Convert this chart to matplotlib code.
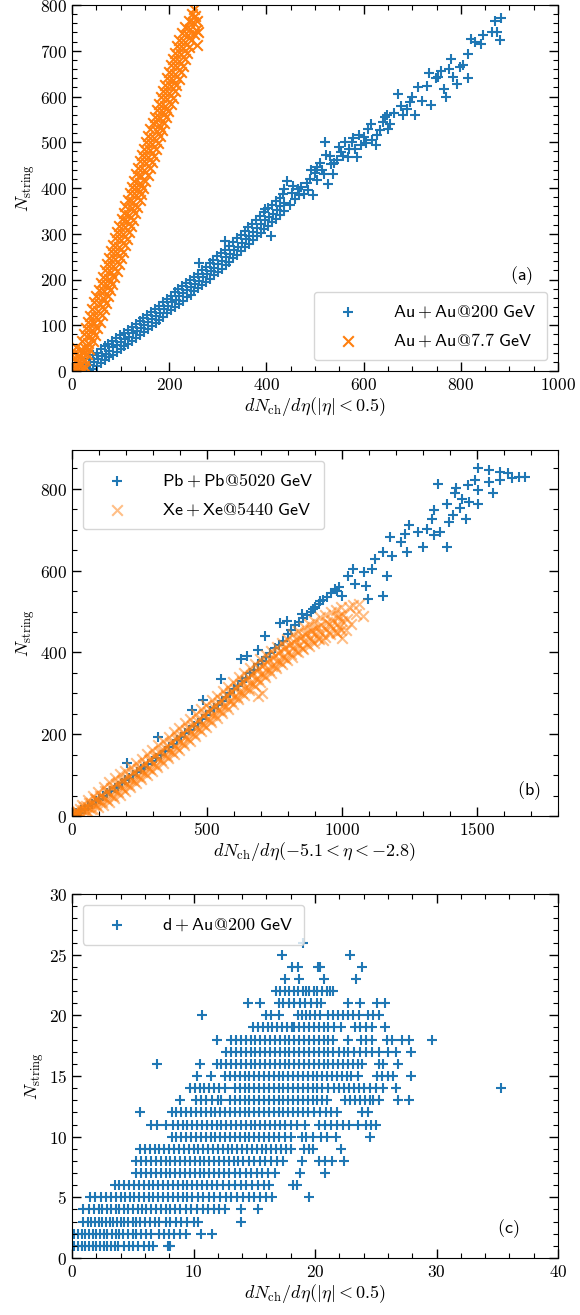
import numpy as np
import matplotlib.pyplot as plt
from matplotlib.ticker import MultipleLocator, FuncFormatter

plt.rcParams['mathtext.fontset'] = 'cm'
plt.rcParams['font.family'] = ['DejaVu Sans']

# ---------------- panel (a): Au+Au ----------------
auau200 = [(20, 0), (22, 8), (18, 3), (28, 0), (29, 8), (27, 18), (36, 2), (37, 13), (35, 27), (44, 5),
           (45, 20), (43, 34), (52, 12), (53, 26), (51, 40), (60, 18), (61, 33), (59, 47), (68, 23), (69, 38),
           (67, 54), (76, 30), (77, 44), (75, 60), (84, 36), (85, 52), (83, 66), (92, 42), (93, 57), (91, 72),
           (100, 48), (101, 64), (99, 78), (108, 54), (109, 70), (107, 84), (116, 60), (117, 75), (115, 90),
           (124, 66), (125, 82), (123, 97), (132, 72), (133, 88), (131, 103), (140, 79), (141, 94), (139, 110),
           (148, 85), (149, 101), (147, 116), (156, 91), (157, 107), (155, 122), (164, 98), (165, 114),
           (163, 129), (172, 104), (173, 120), (171, 136), (180, 111), (181, 127), (179, 143), (188, 118),
           (189, 135), (187, 150), (196, 126), (197, 142), (195, 158), (204, 133), (205, 150), (203, 165),
           (212, 140), (213, 156), (211, 172), (220, 147), (221, 163), (219, 179), (228, 154), (229, 170),
           (227, 186), (236, 161), (237, 177), (235, 193), (244, 167), (245, 184), (243, 199), (252, 174),
           (253, 190), (251, 206), (260, 181), (261, 197), (259, 213), (261, 237), (268, 188), (269, 205),
           (267, 220), (276, 195), (277, 211), (275, 228), (284, 202), (285, 219), (283, 235), (292, 210),
           (293, 226), (291, 243), (300, 217), (301, 234), (299, 251), (308, 224), (309, 241), (307, 258),
           (314, 285), (316, 231), (317, 249), (315, 265), (324, 239), (325, 256), (323, 273), (332, 246),
           (333, 264), (331, 281), (340, 254), (341, 272), (339, 290), (348, 262), (349, 280), (347, 298),
           (356, 270), (357, 288), (355, 306), (364, 278), (365, 296), (363, 314), (372, 286), (373, 304),
           (371, 322), (380, 294), (381, 312), (379, 330), (388, 302), (389, 321), (387, 339), (396, 311),
           (397, 330), (395, 348), (398, 354), (404, 318), (405, 337), (403, 356), (410, 296), (412, 325),
           (413, 344), (411, 363), (420, 333), (421, 352), (419, 371), (428, 341), (429, 360), (427, 379),
           (436, 349), (437, 368), (435, 387), (436, 398), (443, 416), (448, 362), (452, 390), (455, 405),
           (458, 376), (465, 398), (468, 385), (472, 402), (478, 386), (484, 412), (485, 395), (490, 420),
           (492, 440), (496, 384), (500, 432), (505, 418), (505, 445), (510, 455), (515, 440), (518, 430),
           (520, 500), (522, 472), (527, 409), (530, 470), (532, 452), (538, 430), (540, 455), (545, 462),
           (550, 490), (553, 478), (558, 470), (561, 500), (567, 468), (570, 485), (576, 500), (578, 510),
           (582, 486), (587, 467), (590, 515), (594, 494), (600, 512), (605, 498), (610, 530), (615, 540),
           (618, 505), (625, 493), (628, 515), (633, 526), (640, 545), (644, 555), (648, 560), (650, 530),
           (655, 540), (662, 565), (670, 606), (676, 580), (682, 560), (690, 573), (695, 588), (700, 600),
           (705, 560), (712, 621), (720, 590), (731, 623), (735, 652), (739, 582), (748, 640), (754, 643),
           (760, 655), (765, 617), (769, 598), (775, 660), (780, 681), (784, 643), (792, 627), (799, 665),
           (805, 668), (814, 641), (814, 692), (822, 725), (830, 719), (841, 714), (845, 734), (865, 740),
           (871, 765), (875, 741), (880, 723), (882, 771)]

auau77 = [(2, 1), (9, 4), (16, 0), (22, 3), (1, 13), (8, 11), (16, 14), (24, 10), (2, 26), (10, 23),
          (19, 27), (27, 24), (5, 40), (14, 36), (23, 39), (31, 37), (8, 52), (18, 49), (27, 51), (34, 48),
          (21, 66), (32, 62), (44, 65), (25, 80), (37, 76), (48, 79), (29, 93), (41, 90), (52, 94), (33, 108),
          (46, 104), (57, 107), (38, 121), (49, 118), (61, 122), (42, 136), (54, 132), (66, 135), (46, 150),
          (58, 146), (70, 149), (50, 164), (63, 160), (74, 163), (55, 178), (66, 174), (79, 177), (59, 192),
          (71, 188), (83, 191), (63, 206), (76, 202), (87, 205), (67, 220), (80, 216), (92, 219), (72, 234),
          (84, 230), (96, 233), (76, 248), (88, 244), (100, 247), (80, 262), (92, 258), (105, 261), (85, 276),
          (97, 272), (109, 275), (89, 290), (101, 286), (113, 289), (93, 304), (105, 300), (117, 303),
          (97, 318), (110, 314), (121, 317), (102, 332), (114, 328), (126, 331), (106, 346), (118, 342),
          (130, 345), (110, 360), (123, 356), (134, 359), (115, 374), (126, 370), (139, 373), (119, 388),
          (131, 384), (143, 387), (123, 402), (135, 398), (147, 401), (127, 416), (140, 412), (151, 415),
          (132, 430), (143, 426), (156, 429), (136, 444), (148, 440), (160, 443), (140, 458), (152, 454),
          (164, 457), (144, 472), (157, 468), (168, 471), (149, 486), (161, 482), (173, 485), (153, 500),
          (165, 496), (177, 499), (157, 514), (169, 510), (181, 513), (161, 528), (174, 524), (185, 527),
          (166, 542), (178, 538), (190, 541), (170, 556), (182, 552), (194, 555), (174, 570), (187, 566),
          (198, 569), (178, 584), (191, 580), (203, 583), (183, 598), (195, 594), (207, 597), (187, 612),
          (199, 608), (211, 611), (191, 626), (204, 622), (215, 625), (195, 640), (208, 636), (220, 639),
          (200, 654), (212, 650), (224, 653), (204, 668), (216, 664), (228, 667), (208, 682), (221, 678),
          (232, 681), (212, 696), (225, 692), (237, 695), (217, 710), (229, 706), (241, 709), (221, 724),
          (233, 720), (245, 723), (226, 738), (238, 734), (250, 737), (232, 752), (243, 748), (255, 746),
          (240, 766), (249, 762), (258, 764), (246, 781), (253, 777), (260, 740), (258, 712), (250, 791)]

# ---------------- panel (b): Pb+Pb, Xe+Xe ----------------
pbpb = [(4, 4), (15, 8), (25, 8), (35, 14), (48, 18), (60, 24), (75, 30), (88, 36), (100, 42), (115, 50),
        (130, 56), (142, 62), (158, 68), (170, 74), (185, 80), (198, 88), (204, 129), (212, 94), (225, 100),
        (240, 108), (255, 114), (268, 120), (282, 128), (296, 134), (310, 142), (320, 194), (330, 150),
        (345, 160), (360, 168), (375, 176), (390, 186), (405, 192), (420, 204), (435, 210), (443, 260),
        (450, 220), (465, 228), (480, 238), (484, 284), (495, 248), (510, 256), (525, 264), (540, 272),
        (552, 334), (555, 282), (570, 292), (585, 300), (600, 310), (615, 318), (627, 383), (630, 330),
        (645, 338), (647, 391), (660, 350), (675, 358), (688, 407), (690, 372), (705, 380), (715, 440),
        (720, 390), (735, 398), (750, 410), (765, 418), (770, 473), (780, 428), (797, 477), (800, 446),
        (810, 456), (825, 466), (840, 474), (852, 494), (855, 484), (870, 492), (885, 500), (892, 506),
        (900, 510), (915, 518), (919, 526), (930, 528), (945, 536), (960, 546), (975, 556), (981, 551),
        (990, 560), (1001, 539), (1022, 588), (1042, 604), (1049, 567), (1083, 596), (1090, 563),
        (1097, 530), (1110, 604), (1124, 629), (1151, 645), (1151, 539), (1165, 588), (1178, 682),
        (1185, 637), (1219, 670), (1233, 690), (1240, 645), (1247, 711), (1281, 694), (1301, 657),
        (1315, 702), (1335, 727), (1342, 686), (1342, 748), (1356, 813), (1362, 694), (1390, 657),
        (1390, 764), (1397, 719), (1410, 735), (1417, 789), (1424, 801), (1437, 752), (1444, 776),
        (1458, 727), (1465, 809), (1471, 768), (1492, 821), (1505, 797), (1505, 764), (1505, 850),
        (1546, 846), (1546, 817), (1560, 789), (1587, 842), (1587, 821), (1614, 838), (1630, 826),
        (1655, 829), (1676, 830)]

xexe = [(3, 1), (6, 6), (10, 3), (2, 10), (18, 2), (20, 10), (24, 5), (16, 14), (36, 6), (40, 14), (44, 22),
        (38, 26), (56, 12), (60, 22), (64, 32), (58, 38), (76, 18), (80, 30), (84, 42), (78, 48), (96, 22),
        (100, 36), (104, 50), (98, 58), (116, 28), (120, 44), (124, 60), (118, 72), (136, 34), (140, 52),
        (144, 68), (138, 82), (156, 44), (160, 62), (164, 78), (158, 92), (176, 52), (180, 70), (184, 86),
        (178, 102), (196, 60), (200, 78), (204, 94), (198, 110), (216, 70), (220, 88), (224, 104), (218, 120),
        (236, 80), (240, 98), (244, 114), (238, 130), (256, 90), (260, 108), (264, 124), (258, 140),
        (276, 100), (280, 118), (284, 136), (278, 152), (296, 110), (300, 128), (304, 146), (298, 162),
        (316, 120), (320, 140), (324, 156), (318, 174), (336, 130), (340, 150), (344, 166), (338, 184),
        (356, 142), (360, 160), (364, 178), (358, 194), (376, 152), (380, 172), (384, 188), (378, 206),
        (396, 162), (400, 182), (404, 198), (398, 216), (416, 174), (420, 192), (424, 210), (418, 228),
        (436, 184), (440, 204), (444, 220), (438, 238), (456, 196), (460, 214), (464, 232), (458, 250),
        (476, 208), (480, 226), (484, 244), (478, 262), (496, 218), (500, 238), (504, 254), (498, 272),
        (516, 230), (520, 248), (524, 266), (518, 284), (536, 240), (540, 258), (544, 276), (538, 294),
        (556, 252), (560, 270), (564, 288), (558, 306), (576, 262), (580, 282), (584, 300), (578, 316),
        (596, 274), (600, 292), (604, 310), (598, 328), (616, 286), (620, 304), (624, 322), (618, 340),
        (636, 296), (640, 314), (644, 332), (638, 350), (656, 308), (660, 326), (664, 344), (658, 362),
        (676, 318), (680, 336), (684, 354), (678, 372), (688, 293), (696, 328), (700, 348), (702, 301),
        (704, 366), (698, 384), (716, 340), (720, 358), (724, 376), (718, 394), (736, 350), (740, 368),
        (744, 386), (738, 404), (756, 362), (760, 380), (764, 398), (758, 414), (776, 372), (780, 390),
        (784, 408), (778, 424), (796, 382), (800, 400), (804, 418), (798, 434), (816, 390), (820, 410),
        (824, 426), (818, 444), (836, 400), (840, 418), (844, 436), (838, 452), (856, 408), (860, 428),
        (864, 444), (858, 462), (876, 416), (880, 436), (884, 452), (878, 470), (896, 424), (900, 444),
        (904, 460), (898, 478), (916, 432), (920, 450), (924, 468), (918, 486), (930, 430), (936, 438),
        (940, 458), (944, 474), (938, 492), (956, 444), (960, 464), (964, 480), (958, 498), (976, 450),
        (981, 448), (980, 470), (984, 486), (978, 504), (996, 456), (1001, 436), (1000, 476), (1004, 492),
        (998, 510), (1015, 455), (1020, 482), (1026, 510), (1032, 470), (1040, 516), (1050, 495),
        (1063, 518), (1076, 489),
        (10, 4), (14, 12), (30, 6), (30, 16), (50, 12), (50, 24), (70, 18), (70, 32), (90, 26), (90, 42),
        (110, 34), (110, 50), (130, 40), (130, 60), (150, 50), (150, 70), (170, 58), (170, 80), (190, 66),
        (190, 88), (210, 76), (210, 98), (230, 86), (230, 108), (250, 96), (250, 118), (270, 104), (270, 130),
        (290, 114), (290, 140), (310, 124), (310, 150), (330, 136), (330, 160), (350, 146), (350, 172),
        (370, 156), (370, 182), (390, 166), (390, 194), (410, 178), (410, 204), (430, 188), (430, 216),
        (450, 200), (450, 226), (470, 212), (470, 238), (490, 222), (490, 250), (510, 234), (510, 262),
        (530, 246), (530, 272), (550, 256), (550, 284), (570, 268), (570, 296), (590, 280), (590, 306),
        (610, 290), (610, 318), (630, 302), (630, 330), (650, 312), (650, 340), (670, 324), (670, 350),
        (690, 334), (690, 362), (710, 346), (710, 372), (730, 356), (730, 384), (750, 366), (750, 394),
        (770, 376), (770, 404), (790, 386), (790, 414), (810, 396), (810, 422), (830, 404), (830, 432),
        (850, 412), (850, 440), (870, 420), (870, 448), (890, 428), (890, 456), (910, 436), (910, 462),
        (950, 450), (950, 470), (990, 462), (990, 490)]

# ---------------- panel (c): d+Au, one list of x per integer N_string ----------------
dau_rows = [
    (1, [0.2, 0.5, 0.8, 1.1, 1.4, 1.7, 2.0, 2.3, 2.6, 2.9, 3.2, 3.5, 3.8, 4.3, 4.7, 5.0, 5.4, 5.9, 6.3, 6.7, 7.9, 8.1]),
    (2, [0.2, 0.5, 0.8, 1.1, 1.4, 1.7, 2.0, 2.3, 2.6, 2.9, 3.3, 3.6, 3.9, 4.2, 4.6, 5.0, 5.3, 5.7, 6.1, 6.5,
         7.2, 7.6, 8.0, 8.4, 8.9, 9.4, 10.6, 11.5]),
    (3, [0.9, 1.3, 1.6, 1.9, 2.2, 2.5, 2.8, 3.1, 3.4, 3.7, 4.0, 4.3, 4.6, 5.0, 5.3, 5.6, 6.0, 6.4, 6.8, 7.2,
         7.7, 8.1, 8.6, 9.0, 9.5, 10.0, 10.4, 13.9]),
    (4, [0.9, 1.4, 1.8, 2.2, 2.5, 2.9, 3.2, 3.6, 3.9, 4.3, 4.6, 5.0, 5.4, 5.8, 6.1, 6.5, 6.9, 7.3, 7.7, 8.1,
         8.5, 8.9, 9.4, 9.8, 10.3, 10.8, 11.2, 11.7, 12.1, 12.6, 13.9, 15.3]),
    (5, [1.5, 1.9, 2.4, 2.8, 3.2, 3.6, 4.0, 4.4, 4.8, 5.1, 5.5, 5.9, 6.3, 6.7, 7.1, 7.5, 7.9, 8.3, 8.7, 9.1,
         9.5, 9.9, 10.4, 10.8, 11.3, 11.7, 12.2, 12.7, 13.1, 13.6, 14.1, 14.6, 15.0, 15.5, 16.0, 16.5, 19.5]),
    (6, [3.5, 3.9, 4.3, 4.7, 5.1, 5.5, 5.9, 6.3, 6.7, 7.1, 7.5, 7.9, 8.3, 8.7, 9.1, 9.5, 9.9, 10.3, 10.7, 11.1,
         11.5, 11.9, 12.4, 12.9, 13.4, 13.9, 14.3, 14.8, 15.3, 15.8, 16.2, 18.2, 18.5]),
    (7, [5.3, 5.7, 6.1, 6.5, 6.9, 7.3, 7.7, 8.1, 8.5, 8.9, 9.3, 9.7, 10.1, 10.5, 10.9, 11.3, 11.7, 12.1, 12.5,
         12.9, 13.4, 13.8, 14.3, 14.7, 15.2, 15.6, 16.1, 16.7, 18.8, 20.8]),
    (8, [5.3, 5.7, 6.1, 6.5, 6.9, 7.3, 7.7, 8.1, 8.5, 8.9, 9.3, 9.7, 10.1, 10.5, 10.9, 11.3, 11.7, 12.1, 12.5,
         12.9, 13.3, 13.7, 14.1, 14.6, 15.0, 15.5, 15.9, 16.4, 16.9, 17.4, 18.9, 20.3, 20.8, 21.4, 22.4]),
    (9, [5.6, 6.0, 6.4, 6.8, 7.2, 7.6, 8.0, 8.4, 8.8, 9.2, 9.6, 10.0, 10.4, 10.8, 11.2, 11.6, 12.0, 12.4, 12.8,
         13.2, 13.6, 14.0, 14.4, 14.8, 15.2, 15.6, 16.0, 16.4, 16.8, 17.2, 17.6, 18.0, 19.1, 19.5, 19.8, 22.1]),
    (10, [8.2, 8.6, 9.0, 9.4, 9.8, 10.2, 10.6, 11.0, 11.4, 11.8, 12.2, 12.6, 13.0, 13.4, 13.8, 14.2, 14.6,
          15.0, 15.4, 15.8, 16.2, 16.6, 17.0, 17.5, 18.0, 18.9, 19.3, 19.8, 20.5, 21.0, 21.7, 24.5]),
    (11, [6.5, 7.0, 7.7, 8.3, 8.7, 9.1, 9.5, 9.9, 10.3, 10.7, 11.1, 11.5, 11.9, 12.3, 12.7, 13.1, 13.5, 13.9,
          14.3, 14.7, 15.1, 15.5, 15.9, 16.3, 16.7, 17.1, 17.5, 18.0, 18.5, 19.2, 20.3, 20.8, 21.3, 21.8, 22.3,
          22.8, 23.5, 24.2, 24.6, 25.0]),
    (12, [5.6, 8.2, 8.6, 9.0, 9.4, 9.8, 10.2, 10.6, 11.0, 11.4, 11.8, 12.2, 12.6, 13.0, 13.4, 13.8, 14.2, 14.6,
          15.0, 15.4, 15.8, 16.2, 16.6, 17.0, 17.4, 17.8, 18.2, 18.6, 19.0, 19.4, 19.9, 20.4, 20.9, 21.3, 21.8,
          23.9, 24.4]),
    (13, [8.9, 10.2, 10.6, 11.0, 11.5, 12.0, 12.3, 13.0, 13.4, 13.8, 14.2, 14.6, 15.0, 15.4, 15.8, 16.2, 16.6,
          17.0, 17.4, 17.8, 18.2, 18.6, 19.0, 19.4, 19.8, 20.2, 20.6, 21.0, 22.5, 22.9, 23.3, 23.7, 24.1, 24.5,
          24.8, 25.3, 26.8, 27.7]),
    (14, [9.7, 10.1, 10.5, 10.9, 11.3, 11.7, 12.1, 12.6, 13.4, 13.8, 14.2, 14.6, 15.0, 15.4, 15.8, 16.2, 16.6,
          17.0, 17.4, 17.8, 18.2, 18.6, 19.0, 19.4, 19.8, 20.2, 20.6, 21.1, 21.6, 22.0, 22.4, 22.8, 23.2, 23.6,
          24.0, 24.5, 25.0, 25.6, 26.7, 35.3]),
    (15, [10.3, 11.4, 12.6, 13.0, 13.4, 13.8, 14.2, 14.6, 15.0, 15.4, 15.8, 16.2, 16.6, 17.0, 17.4, 17.8, 18.2,
          18.6, 19.0, 19.4, 19.8, 20.2, 20.6, 21.0, 21.4, 21.8, 22.2, 22.6, 23.0, 23.5, 25.1, 25.5, 26.0, 26.4,
          27.9]),
    (16, [7.0, 10.5, 11.9, 12.3, 12.7, 13.1, 13.5, 13.9, 14.3, 14.7, 15.1, 15.5, 15.9, 16.3, 16.7, 17.1, 17.5,
          17.9, 18.3, 18.7, 19.1, 19.5, 19.9, 20.3, 20.7, 21.1, 21.5, 21.9, 22.3, 22.7, 23.1, 23.5, 23.9, 25.3,
          25.6, 26.8]),
    (17, [12.7, 13.1, 13.5, 13.9, 14.3, 14.7, 15.1, 15.5, 15.9, 16.3, 16.7, 17.1, 17.5, 17.9, 18.3, 18.7, 19.1,
          19.5, 19.9, 20.3, 20.7, 21.1, 21.5, 22.0, 22.4, 22.7, 23.2, 23.7, 24.2, 24.7, 25.3, 26.0, 26.7, 27.9]),
    (18, [11.9, 13.1, 13.5, 13.9, 14.3, 14.7, 15.1, 15.5, 15.9, 16.3, 16.7, 17.1, 17.5, 17.9, 18.3, 18.7, 19.1,
          19.5, 19.9, 20.3, 20.7, 21.1, 21.5, 22.7, 23.8, 24.2, 24.7, 25.9, 26.3, 27.2, 27.7, 29.6]),
    (19, [14.9, 15.3, 15.7, 16.1, 16.5, 16.9, 17.3, 17.7, 18.1, 18.3, 18.7, 19.1, 19.5, 19.9, 20.3, 20.7, 21.1,
          21.6, 22.1, 23.3, 23.7, 24.2, 24.7, 25.8]),
    (20, [10.7, 16.0, 16.4, 17.0, 18.6, 18.9, 19.3, 19.6, 20.0, 20.4, 21.1, 21.5, 21.9, 22.3, 22.7, 23.1, 23.6,
          24.4, 24.8, 25.3]),
    (21, [14.5, 15.5, 17.0, 17.4, 17.9, 18.3, 18.8, 19.2, 19.7, 20.2, 20.5, 22.7, 23.7, 25.1, 25.8]),
    (22, [16.8, 17.1, 17.5, 17.9, 18.3, 18.6, 19.0, 19.3, 19.5, 19.9, 20.2, 20.6, 21.0, 21.2, 21.5]),
    (23, [17.5, 18.7, 20.7, 23.4]),
    (24, [18.1, 18.6, 20.25, 20.4, 23.9]),
    (25, [17.3, 22.9]),
    (26, [19.0]),
]

dau_x = np.array([x for n, xs in dau_rows for x in xs])
dau_y = np.array([n for n, xs in dau_rows for x in xs])

W, H = 580, 1315
fig = plt.figure(figsize=(W / 100, H / 100), dpi=100)

def make_axes(top_px, bottom_px):
    return fig.add_axes([72 / W, 1 - bottom_px / H, (558 - 72) / W, (bottom_px - top_px) / H])

math_fmt = FuncFormatter(lambda v, p: '$%g$' % v)

def style(ax, xmaj, xmin, ymaj, ymin):
    ax.xaxis.set_major_locator(MultipleLocator(xmaj))
    ax.xaxis.set_minor_locator(MultipleLocator(xmin))
    ax.yaxis.set_major_locator(MultipleLocator(ymaj))
    ax.yaxis.set_minor_locator(MultipleLocator(ymin))
    ax.xaxis.set_major_formatter(math_fmt)
    ax.yaxis.set_major_formatter(math_fmt)
    ax.tick_params(which='both', direction='in', top=True, right=True, labelsize=12.5)
    ax.tick_params(which='major', length=6.5, width=1)
    ax.tick_params(which='minor', length=3.5, width=0.8)
    ax.set_ylabel(r'$N_{\mathrm{string}}$', fontsize=13, labelpad=2)

sc = dict(s=58, linewidths=1.5)
leg = dict(fontsize=13, scatterpoints=1, handlelength=2.6, handletextpad=1.2, borderpad=0.6,
           labelspacing=0.6)

# (a)
ax1 = make_axes(5, 371)
a200 = np.array(auau200)
a77 = np.array(auau77)
ax1.scatter(a200[:, 0], a200[:, 1], marker='+', color='#1f77b4', label=r'$\mathsf{Au+Au@200\ GeV}$', **sc)
ax1.scatter(a77[:, 0], a77[:, 1], marker='x', color='#ff7f0e', label=r'$\mathsf{Au+Au@7.7\ GeV}$', **sc)
ax1.set_xlim(0, 1000)
ax1.set_ylim(0, 800)
style(ax1, 200, 50, 100, 20)
ax1.set_xlabel(r'$dN_{\mathrm{ch}}/d\eta(|\eta|<0.5)$', fontsize=13, labelpad=1)
ax1.legend(loc='lower right', borderaxespad=0.6, **leg)
ax1.text(0.925, 0.26, r'$\mathsf{(a)}$', transform=ax1.transAxes, fontsize=13, ha='center', va='center')

# (b)
ax2 = make_axes(450, 816)
pb = np.array(pbpb)
xe = np.array(xexe)
ax2.scatter(pb[:, 0], pb[:, 1], marker='+', color='#1f77b4', label=r'$\mathsf{Pb+Pb@5020\ GeV}$', **sc)
ax2.scatter(xe[:, 0], xe[:, 1], marker='x', color='#ff7f0e', alpha=0.5, label=r'$\mathsf{Xe+Xe@5440\ GeV}$', **sc)
ax2.set_xlim(0, 1800)
ax2.set_ylim(0, 895)
style(ax2, 500, 100, 200, 50)
ax2.set_xlabel(r'$dN_{\mathrm{ch}}/d\eta(-5.1<\eta<-2.8)$', fontsize=13, labelpad=1)
ax2.legend(loc='upper left', borderaxespad=0.6, **leg)
ax2.text(0.94, 0.07, r'$\mathsf{(b)}$', transform=ax2.transAxes, fontsize=13, ha='center', va='center')

# (c)
ax3 = make_axes(894, 1258)
ax3.scatter(dau_x, dau_y, marker='+', color='#1f77b4', label=r'$\mathsf{d+Au@200\ GeV}$', **sc)
ax3.set_xlim(0, 40)
ax3.set_ylim(0, 30)
style(ax3, 10, 2, 5, 1)
ax3.set_xlabel(r'$dN_{\mathrm{ch}}/d\eta(|\eta|<0.5)$', fontsize=13, labelpad=1)
ax3.legend(loc='upper left', borderaxespad=0.6, **leg)
ax3.text(0.898, 0.08, r'$\mathsf{(c)}$', transform=ax3.transAxes, fontsize=13, ha='center', va='center')

fig.savefig('out.png', dpi=100)
